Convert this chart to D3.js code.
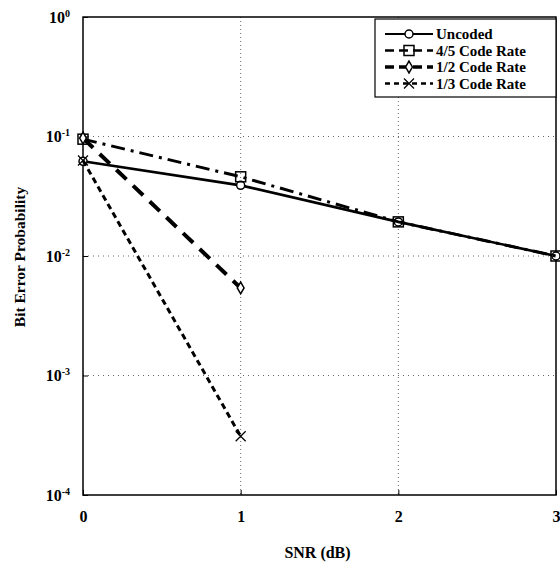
<!DOCTYPE html>
<html>
<head>
<meta charset="utf-8">
<script src="https://cdn.jsdelivr.net/npm/d3@7"></script>
<style>
	body { margin: 0; background: #fff; overflow: hidden; }
	text { font-family: "Liberation Serif", "Times New Roman", serif; font-weight: bold; fill: #000; }
</style>
</head>
<body>
<div id="chart"></div>
<script>
// Data
const snr = [0, 1, 2, 3];
const uncoded = [0.062, 0.039, 0.0193, 0.0100];
const rate45 = [0.095, 0.046, 0.0193, 0.0100];
const rate12 = [0.097, 0.0054];
const rate13 = [0.063, 0.00031];
const xTicks = [0, 1, 2, 3];
const yExps = [0, -1, -2, -3, -4];
const seriesNames = ["Uncoded", "4/5 Code Rate", "1/2 Code Rate", "1/3 Code Rate"];

const width = 560, height = 571;
const margin = { top: 17, right: 4, left: 83, bottom: 76 };
const innerWidth = width - margin.left - margin.right;
const innerHeight = height - margin.top - margin.bottom;

let svg = d3.select("#chart").append("svg")
	.attr("width", width)
	.attr("height", height)
	.style("display", "block");

let x = d3.scaleLinear().domain([0, 3]).range([0, innerWidth]);
let y = d3.scaleLog().domain([1e-4, 1]).range([innerHeight, 0]);

const g = svg.append("g")
	.attr("transform", "translate(" + margin.left + "," + margin.top + ")");

// dotted grid
g.append("g").selectAll("line")
	.data(xTicks.slice(1, 3)).enter().append("line")
	.attr("x1", d => x(d)).attr("x2", d => x(d))
	.attr("y1", 0).attr("y2", innerHeight)
	.attr("stroke", "#666").attr("stroke-width", 1).attr("stroke-dasharray", "1,3");
g.append("g").selectAll("line")
	.data(yExps.slice(1, 4)).enter().append("line")
	.attr("x1", 0).attr("x2", innerWidth)
	.attr("y1", d => y(Math.pow(10, d))).attr("y2", d => y(Math.pow(10, d)))
	.attr("stroke", "#666").attr("stroke-width", 1).attr("stroke-dasharray", "1,4");

// axes
let xAxis = g.append("g")
	.attr("transform", "translate(0," + innerHeight + ")")
	.call(d3.axisBottom(x).tickValues(xTicks).tickSize(-5).tickPadding(16).tickFormat(d3.format("d")));
xAxis.select(".domain").remove();
xAxis.selectAll("text").style("font-size", "16px");

let yAxis = g.append("g")
	.call(d3.axisLeft(y).tickValues(yExps.map(e => Math.pow(10, e))).tickSize(-5));
yAxis.select(".domain").remove();
yAxis.selectAll(".tick text").remove();
yAxis.selectAll(".tick").each(function (d) {
	let e = Math.round(Math.log10(d));
	let t = d3.select(this).append("text")
		.attr("x", -13).attr("dy", "0.32em")
		.attr("text-anchor", "end")
		.style("font-size", "16px");
	t.append("tspan").text("10");
	t.append("tspan").attr("dy", "-0.6em").style("font-size", "10px").text(e);
});

// frame
g.append("rect")
	.attr("width", innerWidth).attr("height", innerHeight)
	.attr("fill", "none").attr("stroke", "#000").attr("stroke-width", 1.5);

// axis labels
svg.append("text")
	.attr("x", margin.left + innerWidth / 2 - 2).attr("y", 558)
	.attr("text-anchor", "middle").style("font-size", "16px")
	.text("SNR (dB)");
svg.append("text")
	.attr("transform", "translate(25," + 257 + ") rotate(-90)")
	.attr("text-anchor", "middle").style("font-size", "15.5px")
	.text("Bit Error Probability");

// series
const series = [
	{ name: seriesNames[0], vals: uncoded, dash: null, w: 2.6, marker: "circle" },
	{ name: seriesNames[1], vals: rate45, dash: "14,6,3,6", w: 3, marker: "square" },
	{ name: seriesNames[2], vals: rate12, dash: "14,9", w: 4, marker: "diamond" },
	{ name: seriesNames[3], vals: rate13, dash: "6,4", w: 3, marker: "cross" }
];

let line = d3.line().x((d, i) => x(snr[i])).y(d => y(d));

function drawMarker(sel, type, cx, cy) {
	if (type == "circle") {
		sel.append("circle").attr("cx", cx).attr("cy", cy).attr("r", 4)
			.attr("fill", "#fff").attr("stroke", "#000").attr("stroke-width", 1.5);
	} else if (type == "square") {
		sel.append("rect").attr("x", cx - 5).attr("y", cy - 5).attr("width", 10).attr("height", 10)
			.attr("fill", "none").attr("stroke", "#000").attr("stroke-width", 1.5);
	} else if (type == "diamond") {
		sel.append("path").attr("d", d3.symbol(d3.symbolDiamond, 40)())
			.attr("transform", "translate(" + cx + "," + cy + ")")
			.attr("fill", "#fff").attr("stroke", "#000").attr("stroke-width", 1.5);
	} else {
		sel.append("path").attr("d", "M-5,-5L5,5M-5,5L5,-5")
			.attr("transform", "translate(" + cx + "," + cy + ")")
			.attr("fill", "none").attr("stroke", "#000").attr("stroke-width", 1.2);
	}
}

for (const s of series) {
	g.append("path").datum(s.vals)
		.attr("d", line)
		.attr("fill", "none").attr("stroke", "#000")
		.attr("stroke-width", s.w)
		.attr("stroke-dasharray", s.dash);
	s.vals.forEach((v, i) => drawMarker(g, s.marker, x(snr[i]), y(v)));
}

// legend
const lg = svg.append("g").attr("transform", "translate(375,19)");
lg.append("rect").attr("width", 181).attr("height", 78)
	.attr("fill", "#fff").attr("stroke", "#000").attr("stroke-width", 1.2);
series.forEach((s, i) => {
	let yy = 15 + i * 16.5;
	lg.append("line").attr("x1", 10).attr("x2", 58).attr("y1", yy).attr("y2", yy)
		.attr("stroke", "#000").attr("stroke-width", s.w - 0.5)
		.attr("stroke-dasharray", s.dash ? (s.marker == "cross" ? "5,4" : "9,5") : null);
	drawMarker(lg, s.marker, 34, yy);
	lg.append("text").attr("x", 61).attr("y", yy).attr("dy", "0.35em")
		.style("font-size", "15px").text(s.name);
});
</script>
</body>
</html>
